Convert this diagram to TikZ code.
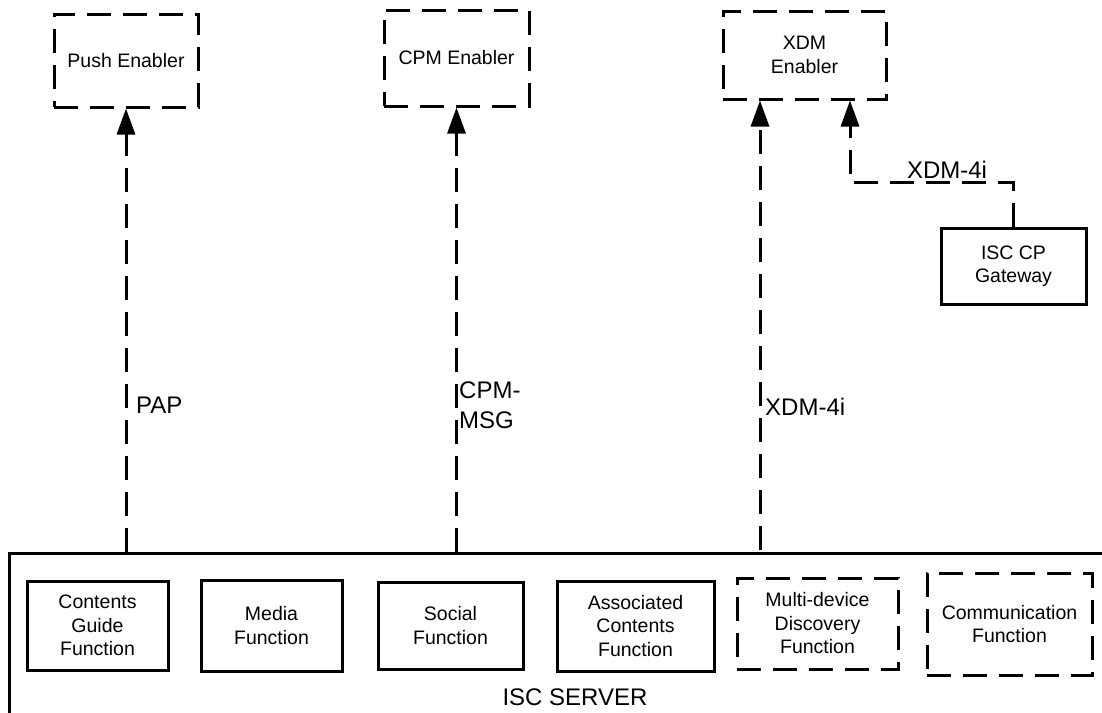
\documentclass[tikz,border=0pt]{standalone}
\usepackage{fontspec}
\setmainfont{Liberation Sans}
\usetikzlibrary{arrows.meta}
\begin{document}
\begin{tikzpicture}[x=1pt,y=-1pt,
        box/.style={draw,line width=3pt,align=center,inner sep=0pt,font=\fontsize{19.5}{23.5}\selectfont},
        dbox/.style={box,dash pattern=on 24pt off 12pt},
        link/.style={line width=3pt,dash pattern=on 24pt off 12pt,-{Triangle[length=26pt,width=18pt]}},
        lbl/.style={font=\fontsize{24}{30}\selectfont,inner sep=0pt,align=left}]
        \useasboundingbox (0,0) rectangle (1102,712);
        \clip (0,0) rectangle (1102,712);
        \node[draw,line width=3pt,minimum width=1140pt,minimum height=200pt,anchor=north west] (server) at (8,552) {};
        \node[lbl,anchor=base] (srvlbl) at (575,705) {ISC SERVER};
        \node[dbox,minimum width=144pt,minimum height=93pt] (push) at (126,60.5) {Push Enabler};
        \node[dbox,minimum width=145pt,minimum height=96pt] (cpm) at (456.5,58) {CPM Enabler};
        \node[dbox,minimum width=163pt,minimum height=88pt] (xdm) at (804.5,55) {XDM\\Enabler};
        \node[box,minimum width=145pt,minimum height=76pt] (gw) at (1013.5,266) {ISC CP\\Gateway};
        \node[box,minimum width=141pt,minimum height=89pt] (cgf) at (97.5,625.5) {Contents\\Guide\\Function};
        \node[box,minimum width=141pt,minimum height=91pt] (media) at (271.5,625.5) {Media\\Function};
        \node[box,minimum width=145pt,minimum height=87pt] (social) at (450.5,625.5) {Social\\Function};
        \node[box,minimum width=157pt,minimum height=90pt] (acf) at (635.5,626) {Associated\\Contents\\Function};
        \node[dbox,minimum width=161pt,minimum height=91pt] (mdd) at (817.5,623.5) {Multi-device\\Discovery\\Function};
        \node[dbox,minimum width=165pt,minimum height=102pt] (comm) at (1009.5,624) {Communication\\Function};
        \draw[link] (push.south |- server.north) -- (push.south);
        \draw[link] (cpm.south |- server.north) -- (cpm.south);
        \coordinate (xdmin) at (760,550);
        \draw[link] (xdmin) -- (xdmin |- xdm.south);
        \coordinate (bend) at (850,182);
        \draw[link] (gw.north) |- (bend) -- (bend |- xdm.south);
        \node[lbl,anchor=base] (gwlbl) at (947,178) {XDM-4i};
        \node[lbl,anchor=base west] (pap) at (136,413) {PAP};
        \node[lbl,anchor=north west] (cpmmsg) at (459,382) {CPM-\\MSG};
        \node[lbl,anchor=base west] (xdmlbl) at (765,415) {XDM-4i};
\end{tikzpicture}
\end{document}
